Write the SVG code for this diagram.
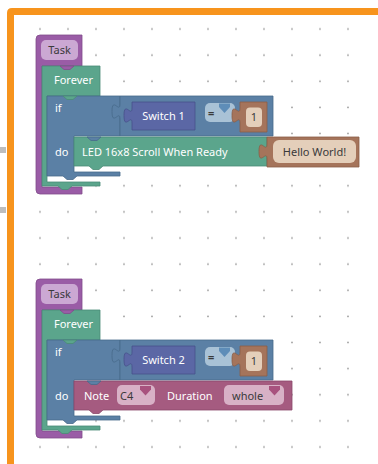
<svg xmlns="http://www.w3.org/2000/svg" width="378" height="464" viewBox="0 0 378 464">
  <defs>
    <pattern id="grid" patternUnits="userSpaceOnUse" x="26" y="16" width="28" height="26.125">
      <circle cx="14" cy="13" r="0.9" fill="#9a9a9a"/>
    </pattern>
    <path id="notch" d="M0,0 l4,3.5 h6 l4,-3.5 Z"/>
    <path id="arrow" d="M0,0 h11 v3.5 l-5.5,6 l-5.5,-6 Z"/>
  </defs>
  <style>
    .t{font-family:"Noto Sans","DejaVu Sans",sans-serif;font-size:11px}
    .w{fill:#ffffff}
    .d{fill:#3a3a3a}
    .task{fill:#9A5CA6;stroke:#814B8C;stroke-width:0.8}
    .loop{fill:#5BA58C;stroke:#4A8C76;stroke-width:0.8}
    .logic{fill:#5B80A5;stroke:#48698A;stroke-width:0.8}
    .sw{fill:#5B67A5;stroke:#47518A;stroke-width:0.8}
    .num{fill:#A5745B;stroke:#8A5E48;stroke-width:0.8}
    .note{fill:#A55B80;stroke:#8A4869;stroke-width:0.8}
    .fnum{fill:#E4CFBA}
    .fcmp{fill:#A9C2D6}
    .fnote{fill:#D8B1C6}
  </style>

  <!-- workspace background and dot grid -->
  <rect width="378" height="464" fill="#ffffff"/>
  <rect x="15" y="15" width="347" height="449" fill="url(#grid)"/>

  <!-- workspace frame -->
  <path d="M378,8 H12 Q7,8 7,13 V464 H14 V15 H378 Z" fill="#F7941D"/>
  <rect x="0" y="147" width="6" height="6" fill="#bdbdbd"/>
  <rect x="0" y="207" width="6" height="6" fill="#bdbdbd"/>

  <!-- first task: LED scroll -->
  <g id="program1">
    <g id="task1">
      <path class="task" d="M40,35 H82 V66 H42 V187 H82 V194 H40 Q36,194 36,190 V39 Q36,35 40,35 Z"/>
      <rect x="41" y="40" width="37" height="20" rx="5" fill="#CBA8D3"/>
      <text class="t d" x="59.5" y="54" text-anchor="middle">Task</text>
    </g>
    <g id="forever1">
      <path class="loop" d="M42,66 H100 V96 H47 V182 H100 V186 H72 l-4,3.5 h-6 l-4,-3.5 H42 Z"/>
      <use href="#notch" x="60" y="66" class="task"/>
      <text class="t w" x="54" y="84">Forever</text>
    </g>
    <g id="if1">
      <path class="logic" d="M47,96 H120 V136 H74 V172 H120 V176 H77 l-4,3.5 h-6 l-4,-3.5 H47 Z"/>
      <use href="#notch" x="63" y="96" class="loop"/>
      <text class="t w" x="55" y="112">if</text>
      <text class="t w" x="55" y="156">do</text>
    </g>
    <g id="compare1">
      <path class="logic" d="M120,96 V104 c0,10 -8,-8 -8,7.5 s8,-2.5 8,7.5 V136 H273 V96 Z"/>
      <rect x="205" y="103" width="30" height="19" rx="5" class="fcmp"/>
      <text class="t d" x="208" y="117" font-weight="bold">=</text>
      <use href="#arrow" x="219" y="103.5" fill="#5E8DB8"/>
    </g>
    <g id="switch1">
      <path class="sw" d="M132,102 V108 c0,10 -8,-8 -8,7.5 s8,-2.5 8,7.5 V130 H195 V102 Z"/>
      <text class="t w" x="163.5" y="120" text-anchor="middle">Switch 1</text>
    </g>
    <g id="number1">
      <path class="num" d="M240,102 V108 c0,10 -8,-8 -8,7.5 s8,-2.5 8,7.5 V132 H267 V102 Z"/>
      <rect x="246" y="107.5" width="16" height="19.5" rx="4" class="fnum"/>
      <text class="t d" x="254" y="121" text-anchor="middle">1</text>
    </g>
    <g id="led1">
      <path class="loop" d="M74,137 H267 V166 H103 l-4,3.5 h-6 l-4,-3.5 H74 Z"/>
      <use href="#notch" x="87" y="137" class="logic"/>
      <text class="t w" x="82" y="156">LED 16x8 Scroll When Ready</text>
    </g>
    <g id="text1">
      <path class="num" d="M267,137 V144 c0,10 -8,-8 -8,7.5 s8,-2.5 8,7.5 V167 H359 V137 Z"/>
      <rect x="273" y="140" width="83" height="23" rx="6" class="fnum"/>
      <text class="t d" x="314.5" y="156" text-anchor="middle">Hello World!</text>
    </g>
  </g>

  <!-- second task: play a note -->
  <g id="program2" transform="translate(0,244)">
    <g id="task2">
      <path class="task" d="M40,35 H82 V66 H42 V187 H82 V194 H40 Q36,194 36,190 V39 Q36,35 40,35 Z"/>
      <rect x="41" y="40" width="37" height="20" rx="5" fill="#CBA8D3"/>
      <text class="t d" x="59.5" y="54" text-anchor="middle">Task</text>
    </g>
    <g id="forever2">
      <path class="loop" d="M42,66 H100 V96 H47 V182 H100 V186 H72 l-4,3.5 h-6 l-4,-3.5 H42 Z"/>
      <use href="#notch" x="60" y="66" class="task"/>
      <text class="t w" x="54" y="84">Forever</text>
    </g>
    <g id="if2">
      <path class="logic" d="M47,96 H120 V136 H74 V172 H120 V176 H77 l-4,3.5 h-6 l-4,-3.5 H47 Z"/>
      <use href="#notch" x="63" y="96" class="loop"/>
      <text class="t w" x="55" y="112">if</text>
      <text class="t w" x="55" y="156">do</text>
    </g>
    <g id="compare2">
      <path class="logic" d="M120,96 V104 c0,10 -8,-8 -8,7.5 s8,-2.5 8,7.5 V136 H273 V96 Z"/>
      <rect x="205" y="103" width="30" height="19" rx="5" class="fcmp"/>
      <text class="t d" x="208" y="117" font-weight="bold">=</text>
      <use href="#arrow" x="219" y="103.5" fill="#5E8DB8"/>
    </g>
    <g id="switch2">
      <path class="sw" d="M132,102 V108 c0,10 -8,-8 -8,7.5 s8,-2.5 8,7.5 V130 H195 V102 Z"/>
      <text class="t w" x="163.5" y="120" text-anchor="middle">Switch 2</text>
    </g>
    <g id="number2">
      <path class="num" d="M240,102 V108 c0,10 -8,-8 -8,7.5 s8,-2.5 8,7.5 V132 H267 V102 Z"/>
      <rect x="246" y="107.5" width="16" height="19.5" rx="4" class="fnum"/>
      <text class="t d" x="254" y="121" text-anchor="middle">1</text>
    </g>
    <g id="note2">
      <path class="note" d="M74,137 H292 V166 H103 l-4,3.5 h-6 l-4,-3.5 H74 Z"/>
      <use href="#notch" x="87" y="137" class="logic"/>
      <text class="t w" x="84" y="156">Note</text>
      <rect x="117" y="141" width="38" height="20" rx="5" class="fnote"/>
      <text class="t d" x="120" y="155.5">C4</text>
      <use href="#arrow" x="140" y="142" fill="#A8527E"/>
      <text class="t w" x="167" y="156">Duration</text>
      <rect x="224" y="141" width="60" height="20" rx="5" class="fnote"/>
      <text class="t d" x="232" y="155.5">whole</text>
      <use href="#arrow" x="269" y="142" fill="#A8527E"/>
    </g>
  </g>
</svg>
